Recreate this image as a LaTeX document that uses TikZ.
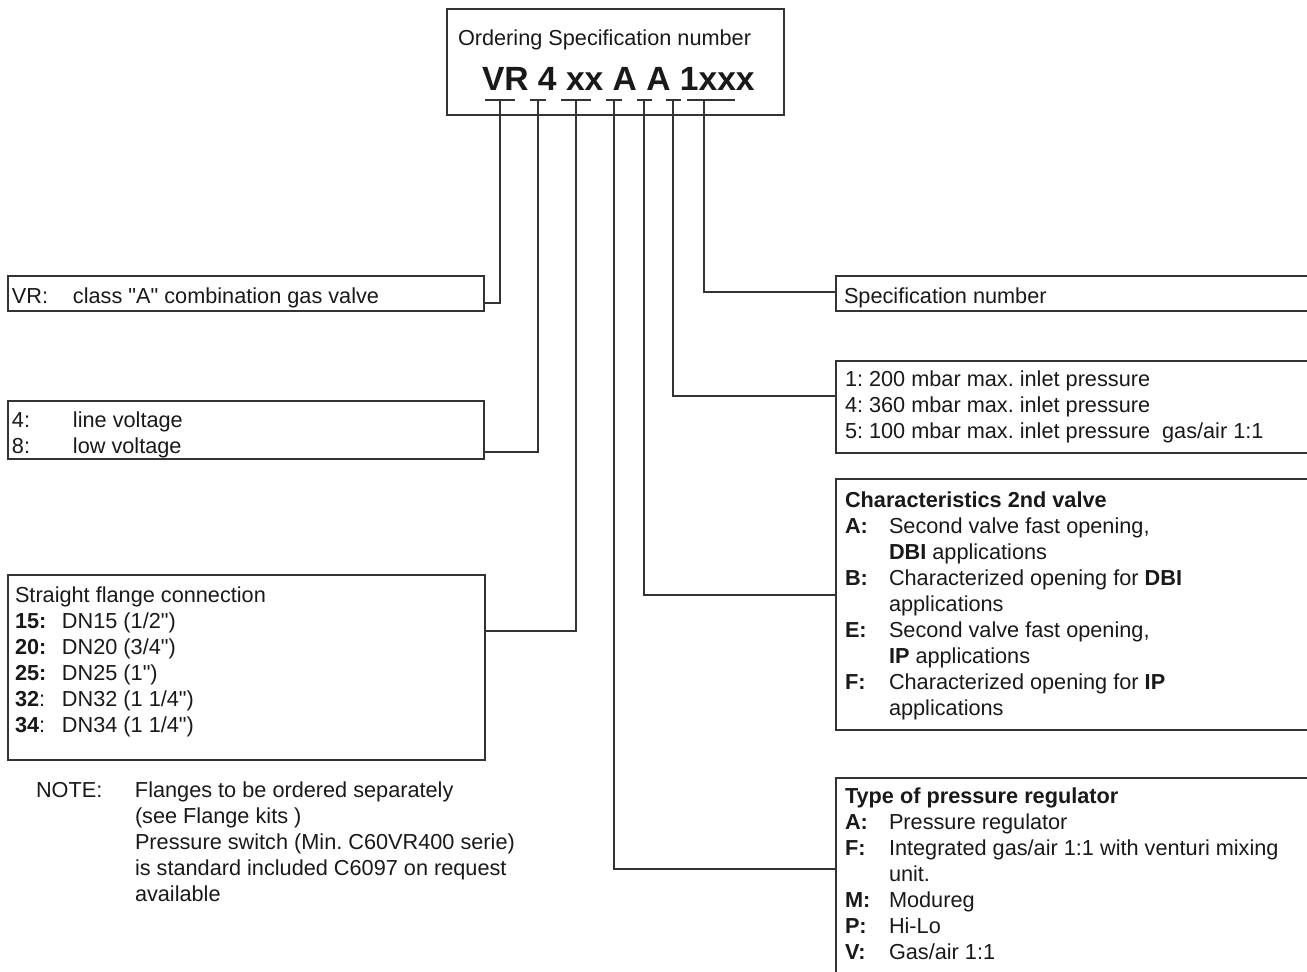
\documentclass[tikz,border=0pt]{standalone}
\usepackage{fontspec}
\setmainfont{Liberation Sans}[Ligatures=TeXOff]
\newcommand\fs{\fontsize{21.7pt}{26pt}\selectfont}
\newcommand\lab[2]{\makebox[#1][l]{#2}}
\frenchspacing
\begin{document}
\frenchspacing
\begin{tikzpicture}[x=1pt,y=-1pt,
  box/.style={draw=black!80,line width=1.3pt,inner sep=0pt,outer sep=0pt,anchor=north west,rectangle},
  wire/.style={draw=black!80,line width=1.3pt},
  txt/.style={anchor=base west,inner sep=0pt,outer sep=0pt,font=\fs,text=black!90}]
\useasboundingbox (0,0) rectangle (1307,972);
\clip (0,0) rectangle (1307,972);
% boxes
\node[box,minimum width=337pt,minimum height=106pt] (top) at (447,9) {};
\node[box,minimum width=476pt,minimum height=35pt] (vr) at (8,276) {};
\node[box,minimum width=476pt,minimum height=58pt] (volt) at (8,401) {};
\node[box,minimum width=477pt,minimum height=185pt] (flange) at (8,575) {};
\node[box,minimum width=490pt,minimum height=35pt] (spec) at (836,276) {};
\node[box,minimum width=490pt,minimum height=92pt] (press) at (836,361) {};
\node[box,minimum width=490pt,minimum height=251pt] (char) at (836,479) {};
\node[box,minimum width=490pt,minimum height=230pt] (type) at (836,778) {};
% texts
\node[txt] (ordt) at (458,45) {Ordering Specification number};
\node[txt,font=\bfseries\fontsize{33.6pt}{40pt}\selectfont] (code) at (482,90) {VR 4 xx A A 1xxx};
\node[txt] (vrt) at (12,303) {\lab{61pt}{VR:}class "A" combination gas valve};
\node[txt] (voltt) at (12,427) {\begin{tabular}[t]{@{}l@{}}\lab{61pt}{4:}line voltage\\ \lab{61pt}{8:}low voltage\end{tabular}};
\node[txt] (flt) at (15,602) {\begin{tabular}[t]{@{}l@{}}Straight flange connection\\
 \lab{47pt}{\textbf{15:}}DN15 (1/2")\\
 \lab{47pt}{\textbf{20:}}DN20 (3/4")\\
 \lab{47pt}{\textbf{25:}}DN25 (1")\\
 \lab{47pt}{\textbf{32}:}DN32 (1 1/4")\\
 \lab{47pt}{\textbf{34}:}DN34 (1 1/4")\end{tabular}};
\node[txt] (note) at (36,797) {\begin{tabular}[t]{@{}l@{}}\lab{99pt}{NOTE:}Flanges to be ordered separately\\
 \lab{99pt}{}(see Flange kits )\\
 \lab{99pt}{}Pressure switch (Min. C60VR400 serie)\\
 \lab{99pt}{}is standard included C6097 on request\\
 \lab{99pt}{}available\end{tabular}};
\node[txt] (spect) at (844,303) {Specification number};
\node[txt] (presst) at (845,386) {\begin{tabular}[t]{@{}l@{}}1: 200 mbar max. inlet pressure\\
 4: 360 mbar max. inlet pressure\\
 5: 100 mbar max. inlet pressure\ \ gas/air 1:1\end{tabular}};
\node[txt] (chart) at (845,507) {\begin{tabular}[t]{@{}l@{}}\textbf{Characteristics 2nd valve}\\
 \lab{44pt}{\textbf{A:}}Second valve fast opening,\\
 \lab{44pt}{}\textbf{DBI} applications\\
 \lab{44pt}{\textbf{B:}}Characterized opening for \textbf{DBI}\\
 \lab{44pt}{}applications\\
 \lab{44pt}{\textbf{E:}}Second valve fast opening,\\
 \lab{44pt}{}\textbf{IP} applications\\
 \lab{44pt}{\textbf{F:}}Characterized opening for \textbf{IP}\\
 \lab{44pt}{}applications\end{tabular}};
\node[txt] (typet) at (845,803) {\begin{tabular}[t]{@{}l@{}}\textbf{Type of pressure regulator}\\
 \lab{44pt}{\textbf{A:}}Pressure regulator\\
 \lab{44pt}{\textbf{F:}}Integrated gas/air 1:1 with venturi mixing\\
 \lab{44pt}{}unit.\\
 \lab{44pt}{\textbf{M:}}Modureg\\
 \lab{44pt}{\textbf{P:}}Hi-Lo\\
 \lab{44pt}{\textbf{V:}}Gas/air 1:1\end{tabular}};
% tick points under the code
\coordinate (t1) at (500,100);
\coordinate (t2) at (538,100);
\coordinate (t3) at (576,100);
\coordinate (t4) at (614,100);
\coordinate (t5) at (644,100);
\coordinate (t6) at (673,100);
\coordinate (t7) at (704,100);
\draw[wire] ([xshift=-15pt]t1) -- ([xshift=15pt]t1);
\draw[wire] ([xshift=-8pt]t2) -- ([xshift=8pt]t2);
\draw[wire] ([xshift=-15pt]t3) -- ([xshift=15pt]t3);
\draw[wire] ([xshift=-8pt]t4) -- ([xshift=8pt]t4);
\draw[wire] ([xshift=-7.5pt]t5) -- ([xshift=7.5pt]t5);
\draw[wire] ([xshift=-7pt]t6) -- ([xshift=8pt]t6);
\draw[wire] ([xshift=-17pt]t7) -- ([xshift=31pt]t7);
% connectors
\draw[wire] (t1) |- ([yshift=8pt]vr.south east);
\draw[wire] (t2) |- ([yshift=7pt]volt.south east);
\draw[wire] (t3) |- ([yshift=-56pt]flange.north east);
\draw[wire] (t4) |- ([yshift=-91pt]type.north west);
\draw[wire] (t5) |- ([yshift=-116pt]char.north west);
\draw[wire] (t6) |- ([yshift=-35pt]press.north west);
\draw[wire] (t7) |- ([yshift=-16pt]spec.north west);
\end{tikzpicture}
\end{document}
